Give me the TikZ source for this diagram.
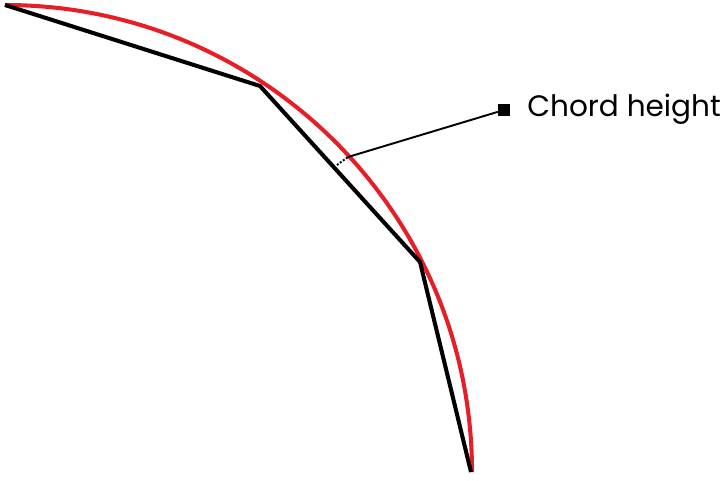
\documentclass[tikz,border=0pt]{standalone}
\usepackage{fontspec}
\setmainfont{Poppins}
\usepackage{tikz}
\definecolor{arcred}{RGB}{230,30,38}

\begin{document}
\begin{tikzpicture}[x=0.02cm,y=-0.02cm]
\useasboundingbox (0,0) rectangle (726,480);
% polygon vertices on the arc
\coordinate (p0) at (5,5);
\coordinate (p1) at (260,86);
\coordinate (p2) at (420,262);
\coordinate (p3) at (471,472);
\draw[arcred, line width=2.3pt] (p0) arc[start angle=270, end angle=360, radius=467];
\draw[line width=2.3pt] (p0) -- (p1) -- (p2) -- (p3);
% chord height marker
\coordinate (hlow) at (337,165);
\coordinate (hup) at (348,157);
\draw[densely dotted, line width=1.1pt] (hlow) -- (hup);
\node[fill, inner sep=0pt, minimum size=6.6pt] (sq) at (504,110) {};
\draw[line width=1.1pt] (hup) -- (sq);
\node[anchor=west, inner sep=0pt, font=\fontsize{16.8}{18}\selectfont] (lbl) at (527,109) {Chord height};
\end{tikzpicture}
\end{document}
